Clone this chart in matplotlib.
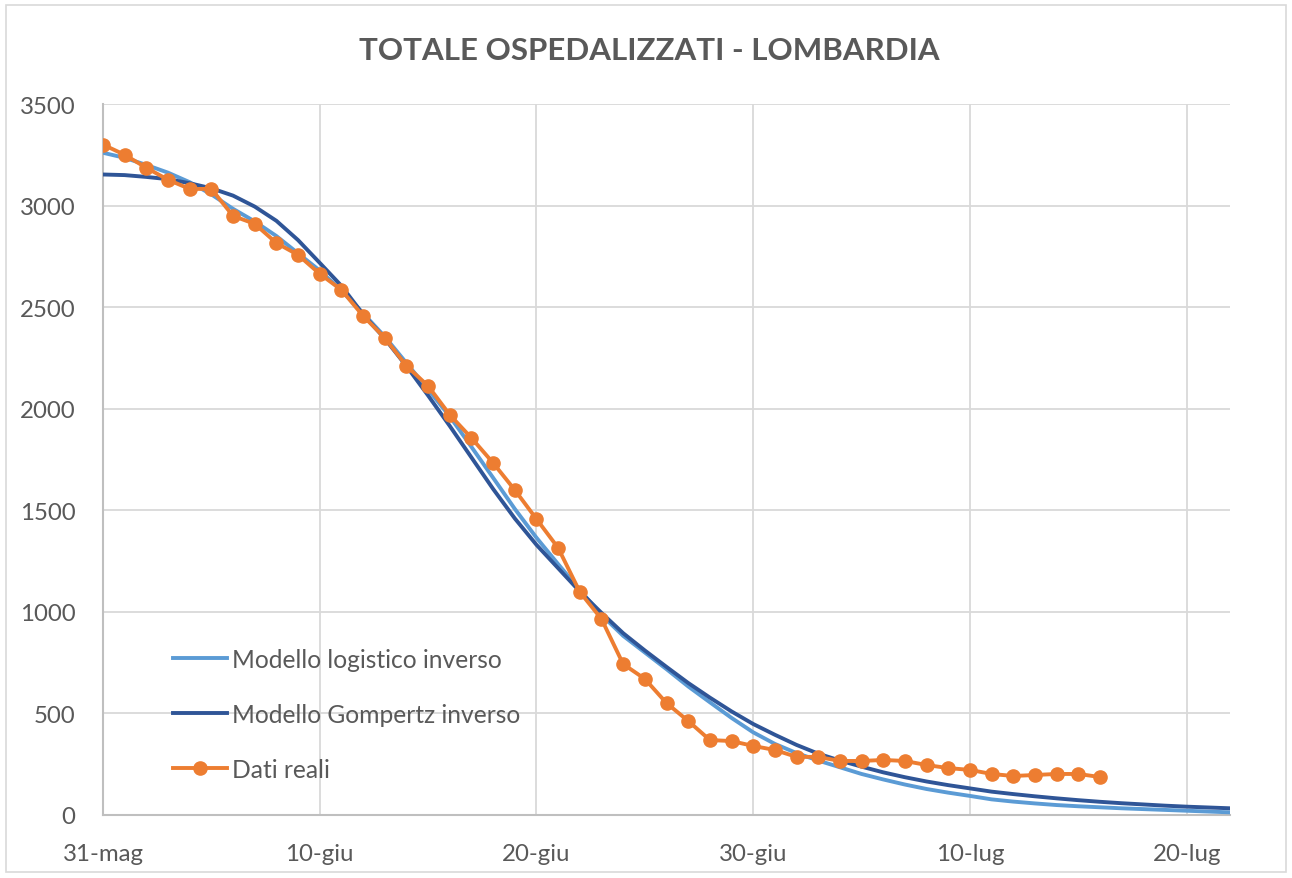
import matplotlib.pyplot as plt
import matplotlib.patches as patches
import numpy as np

# days counted from 31 May
giorni_modello = np.arange(0, 53)
giorni_reali = np.arange(0, 47)

# Modello logistico inverso
logistico = [3260, 3235, 3200, 3162, 3115, 3055, 2984, 2922, 2850, 2765,
             2680, 2582, 2470, 2355, 2225, 2095, 1962, 1812, 1660, 1507,
             1365, 1235, 1108, 985, 882, 800, 718, 633, 555, 478,
             407, 350, 305, 268, 235, 202, 175, 150, 128, 110,
             94, 77, 66, 57, 49, 43, 38, 33, 29, 25,
             21, 17, 13]

# Modello Gompertz inverso
gompertz = [3153, 3150, 3141, 3130, 3110, 3085, 3049, 2995, 2925, 2830,
            2718, 2605, 2465, 2345, 2210, 2065, 1915, 1760, 1605, 1460,
            1330, 1215, 1100, 995, 895, 810, 729, 650, 578, 510,
            448, 395, 345, 302, 268, 238, 210, 186, 165, 147,
            131, 115, 103, 92, 82, 73, 65, 58, 52, 46,
            41, 37, 33]

# Dati reali
reali = [3300, 3250, 3186, 3127, 3082, 3082, 2949, 2910, 2816, 2757,
         2664, 2585, 2457, 2349, 2211, 2112, 1970, 1856, 1733, 1600,
         1457, 1315, 1098, 965, 743, 670, 551, 463, 369, 364,
         340, 320, 286, 286, 266, 266, 271, 266, 246, 231,
         222, 202, 192, 197, 202, 202, 187]

tick_giorni = [0, 10, 20, 30, 40, 50]
tick_etichette = ['31-mag', '10-giu', '20-giu', '30-giu', '10-lug', '20-lug']

plt.rcParams['font.family'] = ['Lato', 'DejaVu Sans']
grigio = '#595959'

fig = plt.figure(figsize=(12.92, 8.79), dpi=100)
ax = fig.add_axes([103 / 1292, 1 - 816 / 879, (1230 - 103) / 1292, (816 - 105) / 879])

ax.plot(giorni_modello, logistico, color='#5B9BD5', lw=2.8, label='Modello logistico inverso', zorder=3)
ax.plot(giorni_modello, gompertz, color='#2F5597', lw=2.8, label='Modello Gompertz inverso', zorder=4)
ax.plot(giorni_reali, reali, color='#ED7D31', lw=2.8, marker='o', markersize=9.5,
        label='Dati reali', zorder=5)

ax.set_xlim(0, 52)
ax.set_ylim(0, 3500)
ax.set_yticks(np.arange(0, 3501, 500))
ax.set_xticks(tick_giorni)
ax.set_xticklabels(tick_etichette)
ax.grid(True, color='#D9D9D9', lw=1.3)
ax.set_axisbelow(True)
for s in ['top', 'right']:
    ax.spines[s].set_visible(False)
for s in ['left', 'bottom']:
    ax.spines[s].set_color('#BFBFBF')
    ax.spines[s].set_linewidth(1.5)
ax.tick_params(axis='both', length=0, labelsize=17.3, labelcolor=grigio)
ax.tick_params(axis='y', pad=20)
ax.tick_params(axis='x', pad=20)

fig.text(649 / 1292, 1 - 51 / 879, 'TOTALE OSPEDALIZZATI - LOMBARDIA', ha='center', va='center',
         fontsize=22.5, fontweight='bold', color=grigio)

ax.legend(loc='upper left', bbox_to_anchor=(173 / 1292, 1 - 649 / 879), bbox_transform=fig.transFigure,
          frameon=False, fontsize=17.7, labelcolor=grigio, handlelength=2.2, handletextpad=0.22,
          labelspacing=1.3, borderpad=0, borderaxespad=0)

fig.patches.append(patches.Rectangle((6 / 1292, 6 / 879), 1 - 12 / 1292, 1 - 12 / 879,
                                     transform=fig.transFigure, fill=False, edgecolor='#D9D9D9', lw=1.2))

fig.savefig('out.png', dpi=100, facecolor='white')
